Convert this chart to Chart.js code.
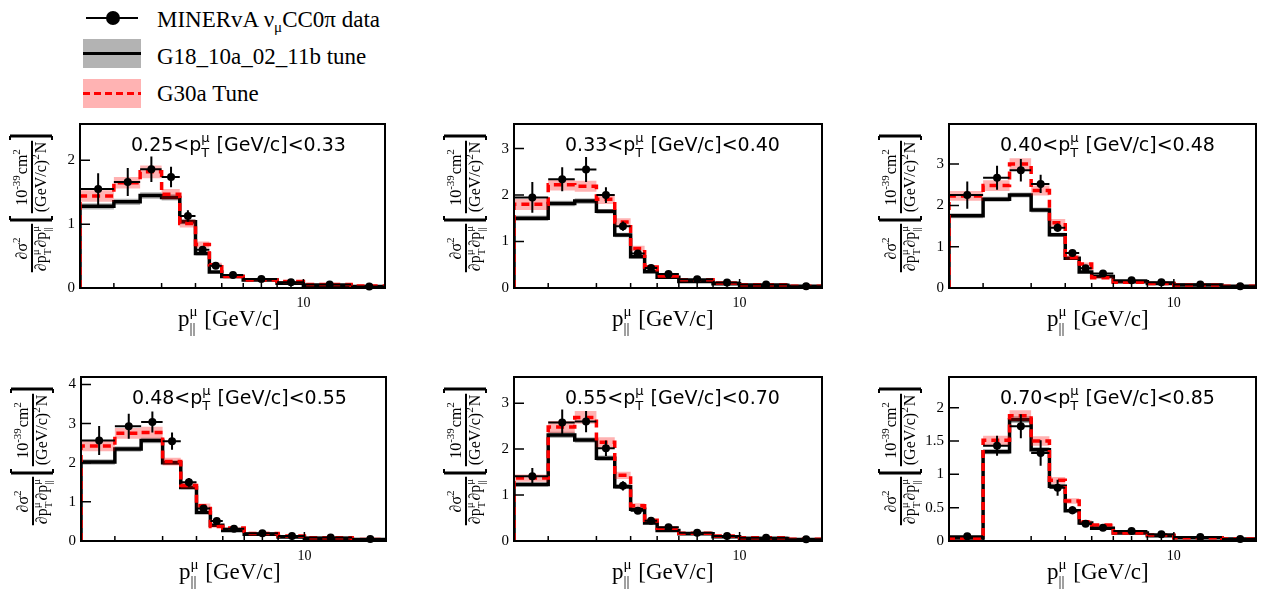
<!DOCTYPE html>
<html>
<head>
<meta charset="utf-8">
<script src="https://cdn.jsdelivr.net/npm/chart.js@4.4.0/dist/chart.umd.min.js"></script>
<style>
  html, body { margin: 0; padding: 0; background: #fff; }
  body { width: 1262px; height: 598px; position: relative; overflow: hidden; }
  canvas { position: absolute; }
  .leg-text { position: absolute; left: 157px; font-family: 'Liberation Serif', serif; font-size: 23px; line-height: 23px; color: #000; white-space: nowrap; }
  .leg-text sub { font-size: 15px; vertical-align: -5px; line-height: 0; }
  .leg-box { position: absolute; left: 83px; width: 58px; height: 29px; }
  .leg-line { position: absolute; left: 83px; width: 58px; height: 3px; }
</style>
</head>
<body>

<!-- legend -->
<div class="leg-line" style="left:86px;width:52px;top:17px;height:2px;background:#000"></div>
<div style="position:absolute;left:106px;top:11px;width:14px;height:14px;border-radius:50%;background:#000"></div>
<div class="leg-text" style="top:8px">MINERvA &nu;<sub>&mu;</sub>CC0&pi; data</div>

<div class="leg-box" style="top:39px;background:#b3b3b3"></div>
<div class="leg-line" style="top:52px;background:#000"></div>
<div class="leg-text" style="top:45px">G18_10a_02_11b tune</div>

<div class="leg-box" style="top:79px;background:#ffb3b3"></div>
<div class="leg-line" style="top:92px;background:repeating-linear-gradient(to right,#f00 0 7px,transparent 7px 11px)"></div>
<div class="leg-text" style="top:82px">G30a Tune</div>

<canvas id="p0"></canvas>
<canvas id="p1"></canvas>
<canvas id="p2"></canvas>
<canvas id="p3"></canvas>
<canvas id="p4"></canvas>
<canvas id="p5"></canvas>

<script>
// p|| bin edges [GeV/c], shared by all pT slices
const binEdges = [1.5, 2, 2.5, 3, 3.5, 4, 4.5, 5, 6, 8, 10, 15, 20];
const xTickValues = [2, 3, 4, 5, 6, 7, 8, 9, 10, 20];
const xTickLabels = { 10: '10' };

const ptLow = ['0.25', '0.33', '0.40', '0.48', '0.55', '0.70'];
const ptHigh = ['0.33', '0.40', '0.48', '0.55', '0.70', '0.85'];
const yMax = [2.57, 3.53, 3.97, 4.19, 3.57, 2.46];
const yTickValues = [[0, 1, 2], [0, 1, 2, 3], [0, 1, 2, 3], [0, 1, 2, 3, 4], [0, 1, 2, 3], [0, 0.5, 1, 1.5, 2]];

// MINERvA data, one row per pT slice
const dataValues = [
  [1.55, 1.66, 1.86, 1.74, 1.13, 0.60, 0.35, 0.205, 0.14, 0.09, 0.055, 0.025],
  [1.95, 2.34, 2.55, 2.00, 1.33, 0.74, 0.43, 0.30, 0.19, 0.12, 0.075, 0.04],
  [2.25, 2.67, 2.85, 2.52, 1.46, 0.85, 0.48, 0.35, 0.19, 0.14, 0.085, 0.04],
  [2.57, 2.93, 3.04, 2.55, 1.50, 0.83, 0.51, 0.31, 0.20, 0.13, 0.09, 0.05],
  [1.41, 2.58, 2.60, 2.02, 1.20, 0.66, 0.44, 0.30, 0.18, 0.11, 0.07, 0.04],
  [0.07, 1.43, 1.72, 1.32, 0.80, 0.46, 0.26, 0.20, 0.15, 0.10, 0.06, 0.03]
];
const dataErrors = [
  [0.25, 0.22, 0.20, 0.16, 0.09, 0.06, 0.035, 0.02, 0.015, 0.01, 0.007, 0.005],
  [0.33, 0.26, 0.27, 0.17, 0.10, 0.06, 0.04, 0.025, 0.015, 0.012, 0.008, 0.005],
  [0.33, 0.29, 0.27, 0.22, 0.10, 0.06, 0.04, 0.03, 0.02, 0.015, 0.01, 0.006],
  [0.37, 0.32, 0.27, 0.22, 0.11, 0.06, 0.04, 0.03, 0.02, 0.015, 0.01, 0.006],
  [0.18, 0.28, 0.23, 0.17, 0.10, 0.05, 0.04, 0.025, 0.015, 0.01, 0.008, 0.005],
  [0.02, 0.15, 0.18, 0.19, 0.12, 0.06, 0.03, 0.025, 0.02, 0.015, 0.01, 0.006]
];

// GENIE G18_10a_02_11b tune
const g18Values = [
  [1.28, 1.35, 1.45, 1.42, 1.04, 0.54, 0.25, 0.18, 0.125, 0.075, 0.045, 0.025],
  [1.50, 1.82, 1.87, 1.65, 1.14, 0.67, 0.35, 0.23, 0.14, 0.09, 0.06, 0.035],
  [1.75, 2.15, 2.25, 1.89, 1.29, 0.72, 0.39, 0.28, 0.15, 0.11, 0.07, 0.04],
  [2.02, 2.35, 2.57, 2.00, 1.37, 0.73, 0.40, 0.27, 0.17, 0.10, 0.065, 0.04],
  [1.23, 2.31, 2.20, 1.80, 1.18, 0.69, 0.39, 0.23, 0.16, 0.09, 0.055, 0.035],
  [0.045, 1.34, 1.82, 1.37, 0.82, 0.455, 0.27, 0.19, 0.12, 0.08, 0.05, 0.03]
];
const g18Errors = [
  [0.05, 0.05, 0.05, 0.05, 0.04, 0.03, 0.015, 0.01, 0.008, 0.006, 0.004, 0.002],
  [0.06, 0.06, 0.06, 0.05, 0.05, 0.03, 0.02, 0.012, 0.008, 0.006, 0.004, 0.002],
  [0.06, 0.06, 0.06, 0.06, 0.05, 0.03, 0.02, 0.012, 0.008, 0.006, 0.004, 0.002],
  [0.07, 0.07, 0.07, 0.06, 0.05, 0.03, 0.02, 0.012, 0.008, 0.006, 0.004, 0.002],
  [0.05, 0.07, 0.06, 0.06, 0.05, 0.03, 0.02, 0.012, 0.008, 0.006, 0.004, 0.002],
  [0.005, 0.04, 0.05, 0.04, 0.03, 0.02, 0.012, 0.01, 0.007, 0.005, 0.003, 0.002]
];

// GENIE G30a tune
const g30Values = [
  [1.44, 1.65, 1.82, 1.47, 1.01, 0.68, 0.365, 0.18, 0.125, 0.10, 0.055, 0.03],
  [1.80, 2.22, 2.19, 1.91, 1.42, 0.85, 0.45, 0.26, 0.18, 0.11, 0.07, 0.04],
  [2.23, 2.48, 3.00, 2.36, 1.58, 0.74, 0.58, 0.25, 0.14, 0.11, 0.07, 0.04],
  [2.43, 2.75, 2.77, 2.03, 1.42, 0.90, 0.37, 0.33, 0.19, 0.13, 0.08, 0.04],
  [1.37, 2.48, 2.69, 2.15, 1.43, 0.77, 0.45, 0.28, 0.17, 0.11, 0.07, 0.04],
  [0.03, 1.51, 1.88, 1.50, 0.91, 0.60, 0.29, 0.24, 0.12, 0.09, 0.05, 0.03]
];
const g30Errors = [
  [0.09, 0.09, 0.10, 0.08, 0.06, 0.05, 0.03, 0.015, 0.01, 0.008, 0.005, 0.003],
  [0.12, 0.12, 0.12, 0.10, 0.08, 0.06, 0.03, 0.02, 0.012, 0.008, 0.005, 0.003],
  [0.12, 0.13, 0.14, 0.12, 0.09, 0.06, 0.04, 0.02, 0.012, 0.008, 0.005, 0.003],
  [0.14, 0.14, 0.15, 0.10, 0.08, 0.06, 0.03, 0.02, 0.012, 0.008, 0.005, 0.003],
  [0.08, 0.13, 0.14, 0.11, 0.08, 0.05, 0.03, 0.02, 0.012, 0.008, 0.005, 0.003],
  [0.004, 0.07, 0.08, 0.07, 0.05, 0.04, 0.02, 0.015, 0.01, 0.007, 0.004, 0.003]
];

// pad frames in the page (plot area left/top/width)
const panelBoxes = [
  { left: 80, top: 116, width: 306 },
  { left: 514, top: 116, width: 309 },
  { left: 949, top: 116, width: 308 },
  { left: 81, top: 369, width: 306 },
  { left: 514, top: 369, width: 309 },
  { left: 949, top: 369, width: 308 }
];
const PLOT_H = 172, Y_AXIS_W = 80, X_AXIS_H = 55, PAD = 6;

const SERIF = "'Liberation Serif', 'Times New Roman', serif";
const SANS = "'DejaVu Sans', Arial, sans-serif";

// draws text with stacked super/subscripts, returns width
function richText(ctx, x, y, parts, family, size, draw) {
  let cx = x;
  parts.forEach(part => {
    if (typeof part === 'string') {
      ctx.font = size + 'px ' + family;
      if (draw) ctx.fillText(part, cx, y);
      cx += ctx.measureText(part).width;
    } else {
      const s = Math.round(size * 0.66);
      ctx.font = s + 'px ' + family;
      let w = 0;
      if (part.sup) {
        if (draw) ctx.fillText(part.sup, cx, y - size * 0.45);
        w = Math.max(w, ctx.measureText(part.sup).width);
      }
      if (part.sub) {
        if (draw) ctx.fillText(part.sub, cx, y + size * 0.32);
        w = Math.max(w, ctx.measureText(part.sub).width);
      }
      cx += w + 1;
    }
  });
  return cx - x;
}

function richCentered(ctx, cx, y, parts, family, size) {
  const w = richText(ctx, 0, 0, parts, family, size, false);
  richText(ctx, cx - w / 2, y, parts, family, size, true);
  return w;
}

function histOutline(values) {
  const pts = [{ x: binEdges[0], y: 0 }];
  values.forEach((v, i) => pts.push({ x: binEdges[i], y: v }));
  pts.push({ x: binEdges[binEdges.length - 1], y: values[values.length - 1] });
  return pts;
}

function histBand(values, errors, sign) {
  const pts = values.map((v, i) => ({ x: binEdges[i], y: v + sign * errors[i] }));
  const n = values.length - 1;
  pts.push({ x: binEdges[binEdges.length - 1], y: values[n] + sign * errors[n] });
  return pts;
}

function drawYTitle(ctx, cx, cy) {
  ctx.save();
  ctx.translate(cx, cy);
  ctx.rotate(-Math.PI / 2);
  ctx.fillStyle = '#000';
  ctx.strokeStyle = '#000';
  ctx.textBaseline = 'alphabetic';
  const fs = 16;

  // d2sigma / dpT dp||
  const w1 = richCentered(ctx, -42, -5, ['\u2202\u03c3', { sup: '2' }], SERIF, fs);
  const w2 = richCentered(ctx, -42, 14, ['\u2202p', { sup: '\u03bc', sub: 'T' }, '\u2202p', { sup: '\u03bc', sub: '||' }], SERIF, fs);
  let bw = Math.max(w1, w2) + 2;
  ctx.lineWidth = 2;
  ctx.beginPath(); ctx.moveTo(-42 - bw / 2, 0); ctx.lineTo(-42 + bw / 2, 0); ctx.stroke();

  // [ 1e-39 cm2 / (GeV/c)2 N ]
  const w3 = richCentered(ctx, 29, -5, ['10', { sup: '-39' }, 'cm', { sup: '2' }], SERIF, fs);
  const w4 = richCentered(ctx, 29, 14, ['(GeV/c)', { sup: '2' }, 'N'], SERIF, fs);
  bw = Math.max(w3, w4) + 2;
  ctx.beginPath(); ctx.moveTo(29 - bw / 2, 0); ctx.lineTo(29 + bw / 2, 0); ctx.stroke();

  // brackets
  [[-14, 1], [70, -1]].forEach(([bx, dir]) => {
    ctx.lineWidth = 3;
    ctx.beginPath(); ctx.moveTo(bx, -22); ctx.lineTo(bx, 20); ctx.stroke();
    ctx.lineWidth = 2;
    ctx.beginPath();
    ctx.moveTo(bx, -22); ctx.lineTo(bx + 4 * dir, -22);
    ctx.moveTo(bx, 20); ctx.lineTo(bx + 4 * dir, 20);
    ctx.stroke();
  });
  ctx.restore();
}

function rootPlugin(p) {
  return {
    id: 'rootPad' + p,
    beforeDatasetDraw(chart, args) {
      if (args.index !== 0) return;
      const { ctx } = chart;
      const x = chart.scales.x, y = chart.scales.y;
      ctx.save();
      ctx.strokeStyle = '#000';
      ctx.lineWidth = 2;
      dataValues[p].forEach((v, i) => {
        const lo = binEdges[i], hi = binEdges[i + 1];
        const xc = x.getPixelForValue((lo + hi) / 2);
        const yc = y.getPixelForValue(v);
        ctx.beginPath();
        ctx.moveTo(x.getPixelForValue(lo), yc);
        ctx.lineTo(x.getPixelForValue(hi), yc);
        ctx.moveTo(xc, y.getPixelForValue(v + dataErrors[p][i]));
        ctx.lineTo(xc, y.getPixelForValue(Math.max(0, v - dataErrors[p][i])));
        ctx.stroke();
      });
      ctx.restore();
    },
    afterDraw(chart) {
      const { ctx, chartArea: a } = chart;
      const x = chart.scales.x, y = chart.scales.y;
      ctx.save();
      ctx.strokeStyle = '#000';
      ctx.fillStyle = '#000';

      // inward tick marks
      ctx.lineWidth = 1.5;
      ctx.beginPath();
      xTickValues.forEach(v => {
        const px = x.getPixelForValue(v);
        const len = xTickLabels[v] ? 9 : 5;
        ctx.moveTo(px, a.bottom); ctx.lineTo(px, a.bottom - len);
      });
      yTickValues[p].forEach(v => {
        const py = y.getPixelForValue(v);
        ctx.moveTo(a.left, py); ctx.lineTo(a.left + 10, py);
      });
      ctx.stroke();

      // frame
      ctx.lineWidth = 2;
      ctx.strokeRect(a.left, a.top, a.right - a.left, a.bottom - a.top);

      // slice label
      ctx.textBaseline = 'alphabetic';
      richText(ctx, a.left + 51, a.top + 27,
        [ptLow[p] + '<p', { sup: '\u03bc', sub: 'T' }, ' [GeV/c]<' + ptHigh[p]], SANS, 19, true);

      // x title
      richText(ctx, a.left + 98, a.bottom + 38,
        ['p', { sup: '\u03bc', sub: '||' }, ' [GeV/c]'], SERIF, 23, true);

      ctx.restore();
      drawYTitle(ctx, a.left - 48, (a.top + a.bottom) / 2);
    }
  };
}

function buildPanel(p) {
  const box = panelBoxes[p];
  const canvas = document.getElementById('p' + p);
  canvas.width = Y_AXIS_W + box.width + PAD;
  canvas.height = PAD + PLOT_H + X_AXIS_H;
  canvas.style.left = (box.left - Y_AXIS_W) + 'px';
  canvas.style.top = (box.top - PAD) + 'px';

  const stepLine = { stepped: 'before', pointRadius: 0, tension: 0 };

  new Chart(canvas.getContext('2d'), {
    type: 'line',
    data: {
      datasets: [
        {
          label: 'MINERvA data',
          data: dataValues[p].map((v, i) => ({ x: (binEdges[i] + binEdges[i + 1]) / 2, y: v })),
          showLine: false,
          pointRadius: 4,
          pointBorderWidth: 0,
          pointBackgroundColor: '#000',
          clip: false
        },
        Object.assign({
          label: 'G30a Tune',
          data: histOutline(g30Values[p]),
          borderColor: '#ff0000',
          borderWidth: 3.5,
          borderDash: [8, 5],
          borderCapStyle: 'butt',
          fill: false
        }, stepLine),
        Object.assign({
          label: 'G30a band hi',
          data: histBand(g30Values[p], g30Errors[p], 1),
          borderColor: 'transparent',
          borderWidth: 0,
          backgroundColor: 'rgba(255,0,0,0.3)',
          fill: '+1'
        }, stepLine),
        Object.assign({
          label: 'G30a band lo',
          data: histBand(g30Values[p], g30Errors[p], -1),
          borderColor: 'transparent',
          borderWidth: 0,
          fill: false
        }, stepLine),
        Object.assign({
          label: 'G18_10a_02_11b tune',
          data: histOutline(g18Values[p]),
          borderColor: '#000000',
          borderWidth: 3.5,
          fill: false
        }, stepLine),
        Object.assign({
          label: 'G18 band hi',
          data: histBand(g18Values[p], g18Errors[p], 1),
          borderColor: 'transparent',
          borderWidth: 0,
          backgroundColor: 'rgba(0,0,0,0.3)',
          fill: '+1'
        }, stepLine),
        Object.assign({
          label: 'G18 band lo',
          data: histBand(g18Values[p], g18Errors[p], -1),
          borderColor: 'transparent',
          borderWidth: 0,
          fill: false
        }, stepLine)
      ]
    },
    options: {
      responsive: false,
      animation: false,
      events: [],
      layout: { padding: { left: 0, right: PAD, top: PAD, bottom: 0 } },
      plugins: { legend: { display: false }, tooltip: { enabled: false } },
      scales: {
        x: {
          type: 'logarithmic',
          min: binEdges[0],
          max: binEdges[binEdges.length - 1],
          grid: { display: false, drawTicks: false },
          border: { display: false },
          afterBuildTicks: s => { s.ticks = xTickValues.map(v => ({ value: v })); },
          afterFit: s => { s.height = X_AXIS_H; },
          ticks: {
            autoSkip: false,
            maxRotation: 0,
            minRotation: 0,
            padding: 7,
            color: '#000',
            font: { family: SERIF, size: 14 },
            callback: v => xTickLabels[v] || ''
          }
        },
        y: {
          type: 'linear',
          min: 0,
          max: yMax[p],
          grid: { display: false, drawTicks: false },
          border: { display: false },
          afterBuildTicks: s => { s.ticks = yTickValues[p].map(v => ({ value: v })); },
          afterFit: s => { s.width = Y_AXIS_W; },
          ticks: {
            padding: 5,
            color: '#000',
            font: { family: SERIF, size: 15 },
            callback: v => String(v)
          }
        }
      }
    },
    plugins: [rootPlugin(p)]
  });
}

for (let p = 0; p < 6; p++) buildPanel(p);
</script>
</body>
</html>
